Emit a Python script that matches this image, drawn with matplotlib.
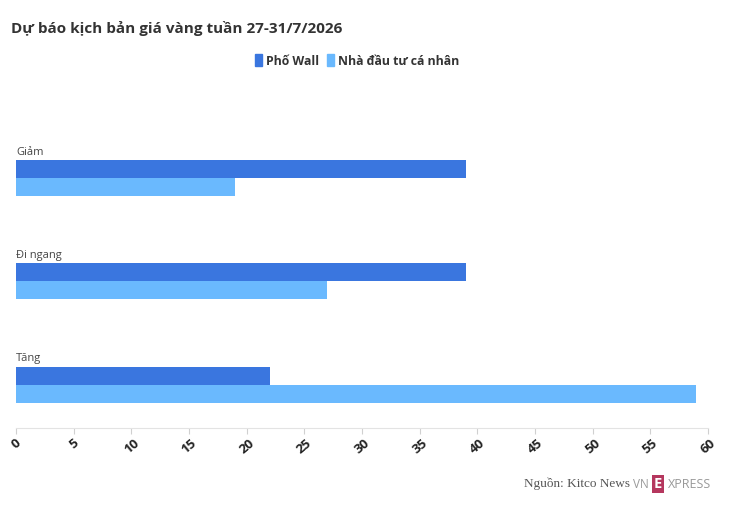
import matplotlib
matplotlib.use('Agg')
import matplotlib.pyplot as plt
from matplotlib.patches import Patch

plt.rcParams['font.family'] = ['Open Sans', 'Lato', 'DejaVu Sans']

# dữ liệu
categories = ['Tăng', 'Đi ngang', 'Giảm']
pho_wall = [22, 39, 39]
nha_dau_tu = [59, 27, 19]
x_ticks = list(range(0, 61, 5))

DARK = '#3a76df'
LIGHT = '#6ab9fe'

fig = plt.figure(figsize=(7.4, 5.11), dpi=100)
ax = fig.add_axes([16 / 740, 1 - 428 / 511, (708 - 16) / 740, (428 - 126) / 511])

h = 0.174
pos = list(range(len(categories)))
ax.barh([p + h / 2 for p in pos], pho_wall, height=h, color=DARK, label='Phố Wall')
ax.barh([p - h / 2 for p in pos], nha_dau_tu, height=h, color=LIGHT, label='Nhà đầu tư cá nhân')

for p, name in zip(pos, categories):
    ax.annotate(name, (0, p + h), xytext=(0, 1.5), textcoords='offset points',
                ha='left', va='bottom', fontsize=8, color='#444444')

ax.set_xlim(0, 60)
ax.set_ylim(-0.42, 2.5)
ax.set_xticks(x_ticks)
ax.set_xticklabels([str(t) for t in x_ticks], rotation=40, fontsize=9.5,
                   fontweight='bold', color='#222222')
ax.set_yticks([])
for s in ['top', 'right', 'left']:
    ax.spines[s].set_visible(False)
ax.spines['bottom'].set_color('#e3e3e3')
ax.tick_params(axis='x', length=4, color='#d0d0d0', pad=2)

fig.text(11 / 740, 1 - 28 / 511, 'Dự báo kịch bản giá vàng tuần 27-31/7/2026',
         fontsize=11, fontweight='bold', color='#333333', va='center')

handles = [Patch(color=DARK, label='Phố Wall'), Patch(color=LIGHT, label='Nhà đầu tư cá nhân')]
leg = fig.legend(handles=handles, loc='center', bbox_to_anchor=(357 / 740, 1 - 61 / 511),
                 ncol=2, frameon=False, handlelength=0.6, handleheight=1.1,
                 handletextpad=0.3, columnspacing=0.6,
                 prop={'weight': 'bold', 'size': 8.8})
for t in leg.get_texts():
    t.set_color('#333333')

fig.text(630 / 740, 1 - 484 / 511, 'Nguồn: Kitco News', fontsize=9.5, family='Liberation Serif',
         color='#555555', ha='right', va='center')
fig.text(633 / 740, 1 - 484 / 511, 'VN', fontsize=8.5, color='#999999', va='center')
fig.text(654 / 740, 1 - 484 / 511, 'E', fontsize=10.5, color='white', va='center',
         fontweight='bold', bbox=dict(boxstyle='square,pad=0.15', fc='#b5375e', ec='none'))
fig.text(668 / 740, 1 - 484 / 511, 'XPRESS', fontsize=9, color='#999999', va='center')

fig.savefig('out.png', dpi=100)
